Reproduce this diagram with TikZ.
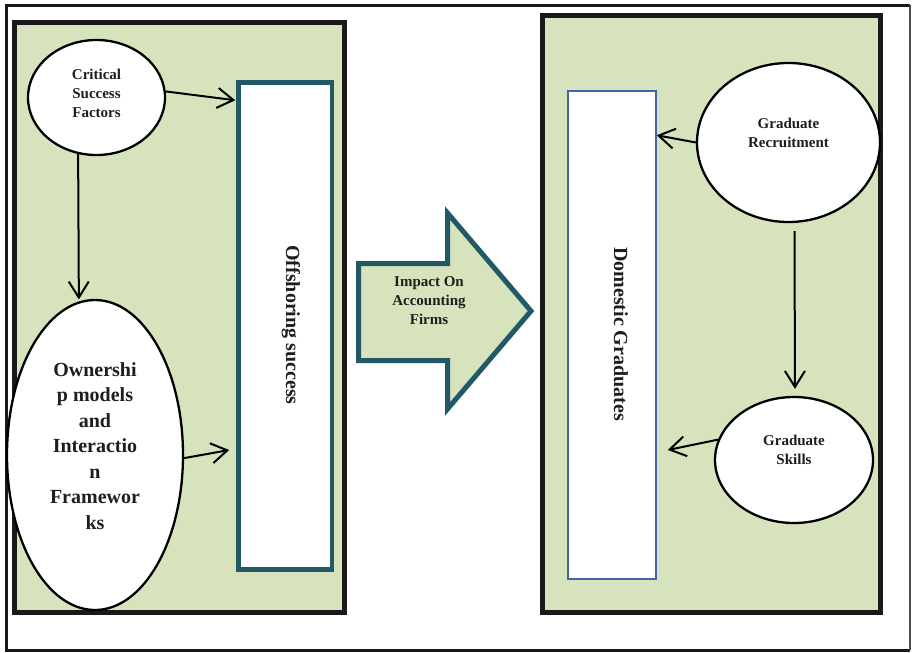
\documentclass[tikz,border=0pt]{standalone}
\usepackage{fontspec}
\setmainfont{Liberation Serif}
\usetikzlibrary{arrows.meta,shapes.geometric,calc}
\definecolor{panelgreen}{RGB}{214,227,188}
\definecolor{tealline}{RGB}{33,89,103}
\definecolor{boxblue}{RGB}{65,100,165}
\definecolor{txt}{RGB}{30,30,30}
\begin{document}
\begin{tikzpicture}[x=1pt,y=-1pt,
  panel/.style={draw=black!90, line width=4.5pt, fill=panelgreen, inner sep=0pt},
  oval/.style={ellipse, draw=black, line width=2.3pt, fill=white, inner sep=0pt},
  arr/.style={draw=black, line width=2pt, -{Straight Barb[length=16pt,width=20pt]}},
  lbl/.style={font=\bfseries\fontsize{15}{19}\selectfont, align=center, text=txt, inner sep=0pt},
  biglbl/.style={font=\bfseries\fontsize{20}{25.5}\selectfont, align=center, text=txt, inner sep=0pt}]
\useasboundingbox (0,0) rectangle (913,653);
% outer frame
\draw[line width=3pt, black!90] (910,5) -- (6,5) -- (6,650) -- (910,650);
\draw[line width=1.5pt, black!70] (910,5) -- (910,650);
% panels
\node[panel, minimum width=330pt, minimum height=590pt] (lp) at (179.5,317.5) {};
\node[panel, minimum width=338pt, minimum height=597pt] (rp) at (711.5,314) {};
% boxes
\node[draw=tealline, line width=4.5pt, fill=white, minimum width=93.5pt, minimum height=487pt, inner sep=0pt] (off) at (285.25,326) {};
\node[biglbl, rotate=-90] (offt) at (291,325) {Offshoring success};
\node[draw=boxblue, line width=1.5pt, fill=white, minimum width=88pt, minimum height=488pt, inner sep=0pt] (dom) at (612,335) {};
\node[biglbl, rotate=-90] (domt) at (621,334) {Domestic Graduates};
% ellipses
\node[oval, minimum width=137pt, minimum height=115pt] (csf) at (96.5,97.5) {};
\node[lbl] (csft) at ([yshift=4pt]csf.center) {Critical\\Success\\Factors};
\node[oval, minimum width=176pt, minimum height=310pt] (own) at (95,455) {};
\node[biglbl] (ownt) at ([yshift=9pt]own.center) {Ownershi\\p models\\and\\Interactio\\n\\Framewor\\ks};
\node[oval, minimum width=183pt, minimum height=159pt] (rec) at (788.5,142.5) {};
\node[lbl] (rect) at ([yshift=9.5pt]rec.center) {Graduate\\Recruitment};
\node[oval, minimum width=158pt, minimum height=126pt] (sk) at (794,460) {};
\node[lbl] (skt) at ([yshift=10pt]sk.center) {Graduate\\Skills};
% big arrow
\draw[draw=tealline, line width=5pt, fill=panelgreen, line join=miter]
  (358.5,263.5) -- (447.5,263.5) -- (447.5,213) -- (531,311) -- (447.5,409) -- (447.5,360.5) -- (358.5,360.5) -- cycle;
\node[lbl] (imp) at (429,301) {Impact On\\Accounting\\Firms};
% connectors
\draw[arr] (csf.5) -- ($(off.north west)+(-1,20)$);
\draw[arr, shorten >=2pt] (csf.252) -- (own.96.5);
\draw[arr] (own.-2) -- ($(off.west)+(-7,124)$);
\draw[arr] (rec.west) -- ($(dom.north east)+(0,45)$);
\draw[arr, shorten >=7pt] ($(rec.south)+(6,8)$) -- ($(sk.north)+(1,0)$);
\draw[arr] (sk.165) -- ($(dom.east)+(11,115)$);
\end{tikzpicture}
\end{document}
